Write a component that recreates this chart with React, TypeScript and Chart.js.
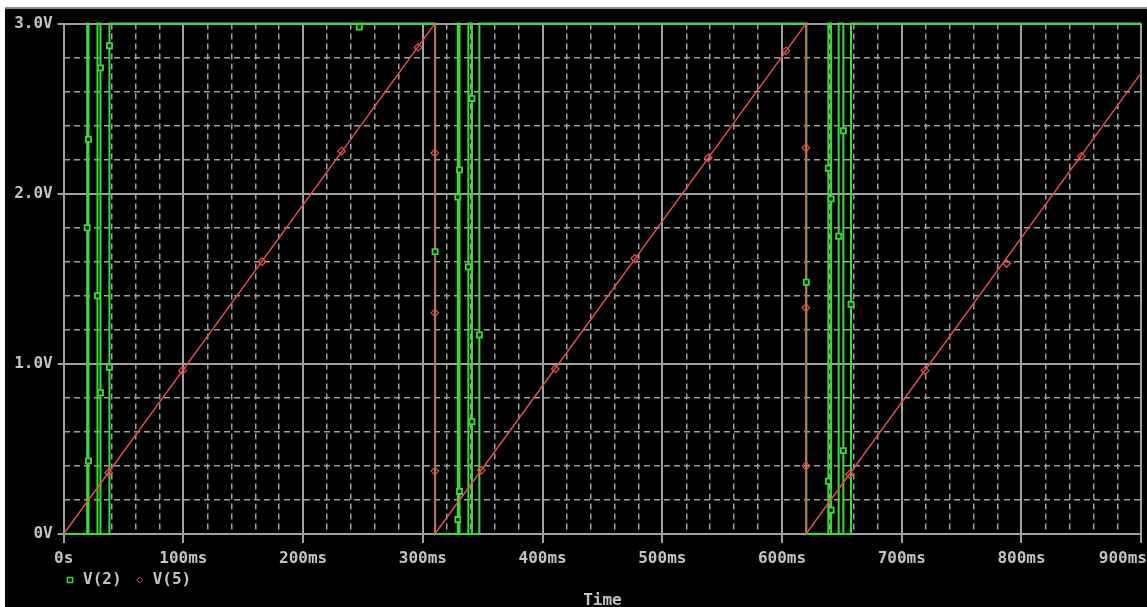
import React, { useEffect, useRef } from "react";
import { Chart, registerables } from "chart.js";

Chart.register(...registerables);

// ---- data (time in ms, volts) ----
const v2Time = [0, 19.6, 19.6, 20.7, 20.7, 28.2, 28.2, 30.7, 30.7, 38.2, 38.2, 310.2, 310.2, 329.2, 329.2, 330.6, 330.6, 338.0, 338.0, 341.0, 341.0, 347.2, 347.2, 620.3, 620.3, 638.7, 638.7, 641.0, 641.0, 647.3, 647.3, 651.2, 651.2, 657.6, 657.6, 900];
const v2Volts = [0, 0, 3, 3, 0, 0, 3, 3, 0, 0, 3, 3, 0, 0, 3, 3, 0, 0, 3, 3, 0, 0, 3, 3, 0, 0, 3, 3, 0, 0, 3, 3, 0, 0, 3, 3];

const v2MarkTime = [19.6, 20.7, 20.7, 28.2, 30.7, 30.7, 38.2, 38.2, 246.9, 310.2, 329.2, 329.2, 330.6, 330.6, 338.0, 341.0, 341.0, 347.2, 620.3, 638.7, 638.7, 641.0, 641.0, 647.3, 651.2, 651.2, 657.6];
const v2MarkVolts = [1.8, 2.32, 0.43, 1.4, 2.74, 0.83, 2.87, 0.98, 2.98, 1.66, 1.98, 0.085, 2.14, 0.25, 1.57, 2.56, 0.66, 1.17, 1.48, 2.15, 0.31, 1.97, 0.14, 1.75, 2.37, 0.49, 1.35];

const v5Time = [0, 310, 310, 620, 620, 900];
const v5Volts = [0, 3.0, 0, 3.0, 0, 2.71];

const v5MarkTime = [37.6, 99.2, 165.7, 232.1, 296, 310, 310, 310, 348.8, 410.6, 477, 538.5, 603.3, 620, 620, 620, 656.4, 719.5, 787.6, 850];
const v5MarkVolts = [0.36, 0.96, 1.6, 2.25, 2.86, 2.24, 1.3, 0.37, 0.375, 0.97, 1.62, 2.21, 2.84, 2.27, 1.33, 0.4, 0.35, 0.96, 1.59, 2.22];

const seriesLabels = ["V(2)", "V(5)"];
const xMajorValues = [0, 100, 200, 300, 400, 500, 600, 700, 800, 900];
const xMajorLabels = ["0s", "100ms", "200ms", "300ms", "400ms", "500ms", "600ms", "700ms", "800ms", "900ms"];
const yMajorValues = [0, 1, 2, 3];
const yMajorLabels = ["0V", "1.0V", "2.0V", "3.0V"];
const xTitle = "Time";

// ---- styles ----
const GREEN = "#38dc38";
const RED = "#e45050";
const GRID = "#a0a0a0";
const TEXT = "#c4c4c4";
const FAMILY = '"DejaVu Sans Mono", monospace';
const FONT_SIZE = 16;
const FONT_WEIGHT = "bold";

const toPts = (xs: number[], ys: number[]) => xs.map((x, i) => ({ x, y: ys[i] }));

const isMajor = (v: number, step: number) => Math.abs(v / step - Math.round(v / step)) < 1e-6;

const overlayPlugin = {
  id: "overlay",
  afterDraw(chart: any) {
    const ctx = chart.ctx;
    const xs = chart.scales.x;
    const area = chart.chartArea;
    ctx.save();
    ctx.font = `${FONT_WEIGHT} ${FONT_SIZE}px ${FAMILY}`;
    ctx.fillStyle = TEXT;
    ctx.textBaseline = "middle";
    ctx.textAlign = "left";
    // x tick labels
    xMajorValues.forEach((v, i) => {
      const label = xMajorLabels[i];
      const px = xs.getPixelForValue(v);
      const w = ctx.measureText(label).width;
      let l = px - w / 2;
      if (l + w > chart.width) l = chart.width - w;
      ctx.fillText(label, l, 550);
    });
    // legend
    const ly = 571;
    const lx = area.left;
    ctx.strokeStyle = GREEN;
    ctx.lineWidth = 1.5;
    ctx.strokeRect(lx + 3.8, ly - 2.5, 5, 5);
    ctx.fillText(seriesLabels[0], lx + 19.3, ly);
    ctx.strokeStyle = RED;
    ctx.lineWidth = 1;
    const dx = lx + 76, r = 3;
    ctx.beginPath();
    ctx.moveTo(dx - r, ly);
    ctx.lineTo(dx, ly - r);
    ctx.lineTo(dx + r, ly);
    ctx.lineTo(dx, ly + r);
    ctx.closePath();
    ctx.stroke();
    ctx.fillText(seriesLabels[1], lx + 89, ly);
    // axis title
    ctx.textAlign = "center";
    ctx.fillText(xTitle, (area.left + area.right) / 2, 592);
    ctx.restore();
  },
};

export default function App() {
  const ref = useRef<HTMLCanvasElement | null>(null);

  useEffect(() => {
    if (!ref.current) return;
    const chart = new Chart(ref.current, {
      type: "line",
      data: {
        datasets: [
          {
            label: seriesLabels[0],
            data: toPts(v2MarkTime, v2MarkVolts),
            showLine: false,
            pointStyle: "rect",
            pointRadius: 3.6,
            pointBorderWidth: 1.8,
            pointBorderColor: GREEN,
            pointBackgroundColor: "#000",
            borderColor: GREEN,
            clip: false,
          },
          {
            label: seriesLabels[1],
            data: toPts(v5MarkTime, v5MarkVolts),
            showLine: false,
            pointStyle: "rectRot",
            pointRadius: 3.8,
            pointBorderWidth: 1.2,
            pointBorderColor: RED,
            pointBackgroundColor: "rgba(0,0,0,0)",
            borderColor: RED,
            clip: false,
          },
          {
            label: seriesLabels[1] + " trace",
            data: toPts(v5Time, v5Volts),
            borderColor: RED,
            borderWidth: 1.4,
            pointRadius: 0,
            tension: 0,
            clip: 3,
          },
          {
            label: seriesLabels[0] + " trace",
            data: toPts(v2Time, v2Volts),
            borderColor: GREEN,
            borderWidth: 2,
            pointRadius: 0,
            tension: 0,
            clip: 3,
          },
        ],
      } as any,
      options: {
        animation: false,
        responsive: false,
        devicePixelRatio: 1,
        events: [],
        layout: { padding: { top: 12, right: 0, left: 0, bottom: 0 } },
        plugins: { legend: { display: false }, tooltip: { enabled: false }, title: { display: false } },
        scales: {
          x: {
            type: "linear",
            min: 0,
            max: 900,
            afterFit: (s: any) => {
              s.height = 73;
            },
            ticks: { stepSize: 20, display: false, autoSkip: false },
            grid: {
              color: GRID,
              lineWidth: (c: any) => (isMajor(c.tick.value, 100) ? 2 : 1.5),
              drawTicks: true,
              tickLength: 9,
              tickWidth: 2,
              tickColor: (c: any) => (isMajor(c.tick.value, 100) ? GRID : "rgba(0,0,0,0)"),
            },
            border: {
              display: false,
              dash: (c: any) => (isMajor(c.tick.value, 100) ? [] : [6, 4]),
            },
          },
          y: {
            type: "linear",
            min: 0,
            max: 3,
            afterFit: (s: any) => {
              s.width = 58.7;
            },
            ticks: {
              stepSize: 0.2,
              autoSkip: false,
              padding: 5,
              color: TEXT,
              font: { family: FAMILY, size: FONT_SIZE, weight: FONT_WEIGHT },
              callback: (v: any) => {
                const idx = yMajorValues.findIndex((m) => Math.abs(m - Number(v)) < 1e-6);
                return idx >= 0 ? yMajorLabels[idx] : "";
              },
            },
            grid: {
              color: GRID,
              lineWidth: (c: any) => (isMajor(c.tick.value, 1) ? 2 : 1.5),
              drawTicks: true,
              tickLength: 6,
              tickWidth: 2,
              tickColor: (c: any) => (isMajor(c.tick.value, 1) ? GRID : "rgba(0,0,0,0)"),
            },
            border: {
              display: false,
              dash: (c: any) => (isMajor(c.tick.value, 1) ? [] : [6, 4]),
            },
          },
        },
      } as any,
      plugins: [overlayPlugin],
    });
    return () => chart.destroy();
  }, []);

  return (
    <div style={{ position: "fixed", left: 0, top: 0, width: 1147, height: 607, background: "#fff", overflow: "hidden" }}>
      <div
        style={{
          position: "absolute",
          left: 5,
          top: 7,
          width: 1142,
          height: 600,
          background: "#000",
          borderTop: "2px solid #8c8c8c",
        }}
      >
        <canvas ref={ref} width={1142} height={598} style={{ display: "block", width: 1142, height: 598 }} />
      </div>
    </div>
  );
}
